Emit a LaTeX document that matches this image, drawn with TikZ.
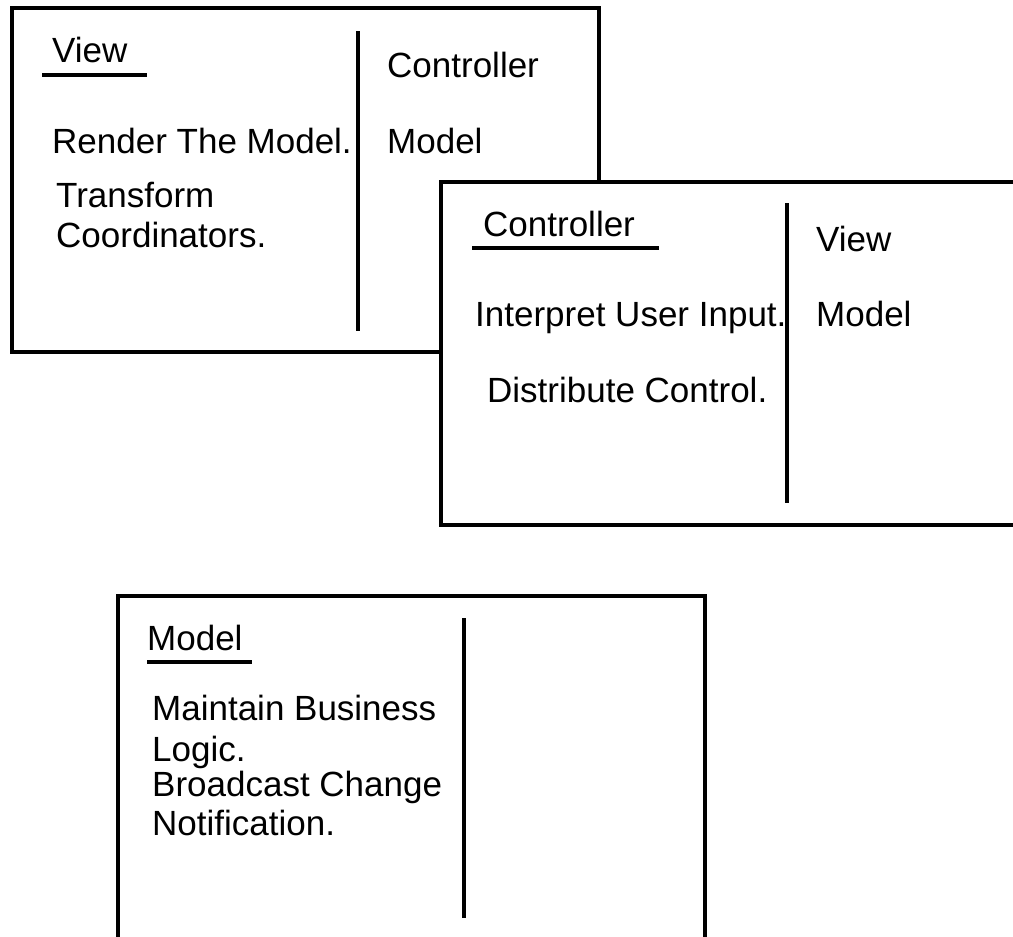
\documentclass[tikz,border=0pt]{standalone}
\usepackage{fontspec}
\setmainfont{Liberation Sans}
\begin{document}
\begin{tikzpicture}[x=1pt,y=-1pt,
  card/.style={draw=black,line width=3.5pt,fill=white},
  rule/.style={draw=black,line width=3.5pt},
  txt/.style={anchor=base west,inner sep=0pt,font=\fontsize{35}{40}\selectfont}]
\useasboundingbox (0,0) rectangle (1013,937);
\clip (0,0) rectangle (1013,937);
% View card
\path[card] (12,8) rectangle (599,352);
\draw[rule] (358,31) -- (358,331);
\node[txt] (vtitle) at (52,62) {View};
\draw[rule] (42,75) -- (147,75);
\node[txt] (vc) at (387,77) {Controller};
\node[txt] (v1) at (52,153) {Render The Model.};
\node[txt] (vm) at (387,153) {Model};
\node[txt] (v2) at (56,207) {Transform};
\node[txt] (v3) at (56,247) {Coordinators.};
% Controller card
\path[card] (441,182) rectangle (1040,525);
\draw[rule] (787,203) -- (787,503);
\node[txt] (ctitle) at (483,236) {Controller};
\draw[rule] (472,248) -- (659,248);
\node[txt] (cv) at (816,251) {View};
\node[txt] (c1) at (475,326) {Interpret User Input.};
\node[txt] (cm) at (816,326) {Model};
\node[txt] (c2) at (487,402) {Distribute Control.};
% Model card
\path[card] (118,596) rectangle (705,960);
\draw[rule] (464,618) -- (464,918);
\node[txt] (mtitle) at (147,650) {Model};
\draw[rule] (147,662) -- (252,662);
\node[txt] (m1) at (152,720) {Maintain Business};
\node[txt] (m2) at (152,761) {Logic.};
\node[txt] (m3) at (152,796) {Broadcast Change};
\node[txt] (m4) at (152,835) {Notification.};
\end{tikzpicture}
\end{document}
